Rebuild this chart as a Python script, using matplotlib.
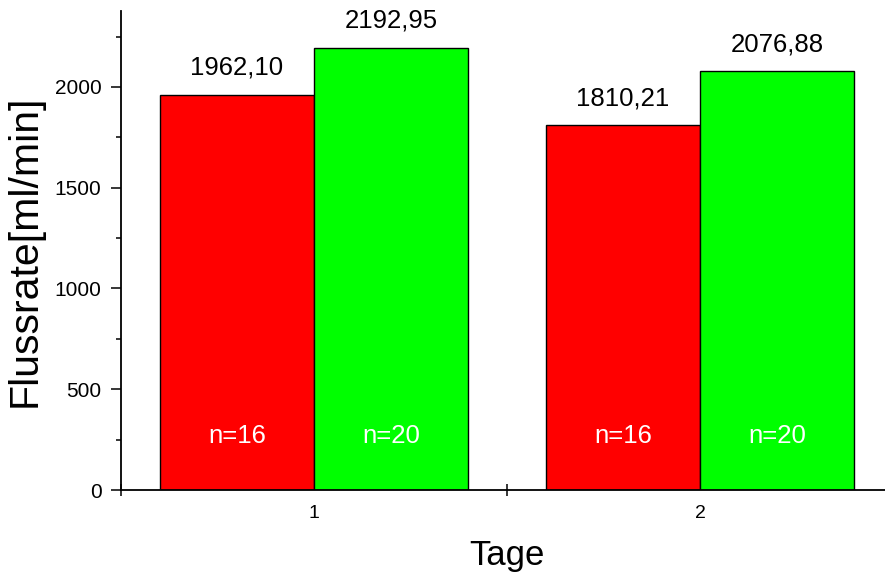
import numpy as np
import matplotlib
matplotlib.use('Agg')
import matplotlib.pyplot as plt
from matplotlib.ticker import MultipleLocator, FixedLocator

plt.rcParams['font.family'] = ['Liberation Sans', 'DejaVu Sans']

# daten
tage = [1, 2]
flussrate_rot = [1962.10, 1810.21]
flussrate_gruen = [2192.95, 2076.88]
n_rot = [16, 16]
n_gruen = [20, 20]

breite = 0.4

fig = plt.figure(figsize=(8.85, 5.75), dpi=100)
ax = fig.add_axes([121/885, 1 - 490/575, 772/885, 479/575])

x = np.array(tage, dtype=float)
bars_r = ax.bar(x - breite/2, flussrate_rot, width=breite, color='#ff0000',
                edgecolor='black', linewidth=1.0)
bars_g = ax.bar(x + breite/2, flussrate_gruen, width=breite, color='#00ff00',
                edgecolor='black', linewidth=1.0)

# werte oben drauf (deutsches komma)
for bars, werte in [(bars_r, flussrate_rot), (bars_g, flussrate_gruen)]:
    for b, w in zip(bars, werte):
        ax.annotate(f'{w:.2f}'.replace('.', ','),
                    (b.get_x() + b.get_width()/2, w),
                    xytext=(0, 14.5), textcoords='offset points',
                    ha='center', va='baseline', fontsize=18.5)

# n= unten im balken
for bars, ns in [(bars_r, n_rot), (bars_g, n_gruen)]:
    for b, n in zip(bars, ns):
        ax.text(b.get_x() + b.get_width()/2, 268, f'n={n}',
                ha='center', va='center', color='white', fontsize=18.5)

ax.set_xlim(0.5, 2.5)
ax.set_ylim(0, 2377)

ax.spines['top'].set_visible(False)
ax.spines['right'].set_visible(False)
ax.spines['left'].set_linewidth(1.3)
ax.spines['bottom'].set_linewidth(1.3)

ax.yaxis.set_major_locator(MultipleLocator(500))
ax.yaxis.set_minor_locator(MultipleLocator(250))
ax.tick_params(axis='y', which='major', direction='out', length=7, width=1.1,
               labelsize=15, pad=7)
ax.tick_params(axis='y', which='minor', direction='out', length=3.5, width=1.1)

ax.xaxis.set_major_locator(FixedLocator([0.5, 1.5, 2.5]))
ax.xaxis.set_minor_locator(FixedLocator(tage))
ax.set_xticklabels([], minor=False)
ax.set_xticklabels([str(t) for t in tage], minor=True)
ax.tick_params(axis='x', which='major', direction='inout', length=9, width=1.1)
ax.tick_params(axis='x', which='minor', length=0, labelsize=14, pad=11)

ax.set_xlabel('Tage', fontsize=25, labelpad=12)
ax.set_ylabel('Flussrate[ml/min]', fontsize=29.5, labelpad=8)

fig.savefig('out.png', dpi=100)
